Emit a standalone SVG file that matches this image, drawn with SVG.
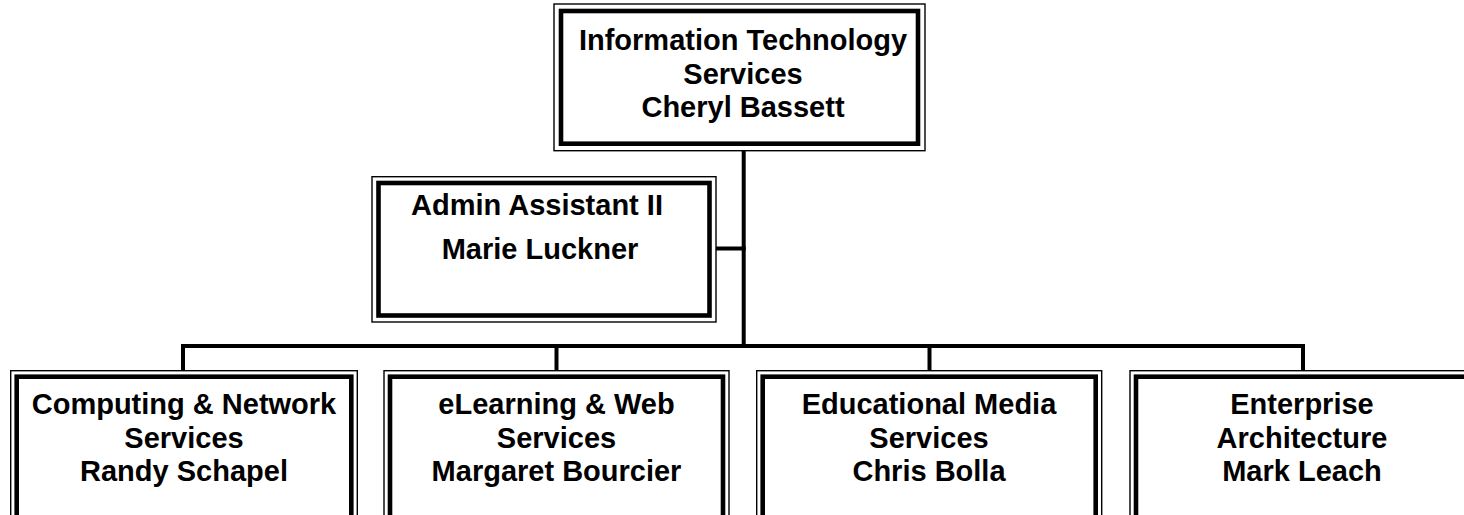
<svg xmlns="http://www.w3.org/2000/svg" width="1464" height="515" viewBox="0 0 1464 515">
<style>
.outer{fill:#ffffff;stroke:#000;stroke-width:1.4}
.inner{fill:none;stroke:#000;stroke-width:4.6}
.t{font-family:"Liberation Sans",Arial,sans-serif;font-weight:bold;font-size:29px;fill:#000;text-anchor:middle}
.c{fill:none;stroke:#000;stroke-width:4;stroke-linecap:square}
</style>
<rect width="1464" height="515" fill="#ffffff"/>
<g id="connectors">
<path class="c" d="M743.7 151 V346"/>
<path class="c" d="M716 248.5 H743.7"/>
<path class="c" d="M183 370 V346 H1303 V370"/>
<path class="c" d="M556.5 346 V370"/>
<path class="c" d="M929.5 346 V370"/>
</g>
<g id="node-its">
<rect class="outer" x="554" y="4" width="371" height="146.7"/>
<rect class="inner" x="561" y="11" width="357" height="132.7"/>
<text class="t" x="743" y="50">Information Technology</text>
<text class="t" x="743" y="84">Services</text>
<text class="t" x="743" y="117">Cheryl Bassett</text>
</g>
<g id="node-admin">
<rect class="outer" x="372" y="176.7" width="344" height="145.3"/>
<rect class="inner" x="378.5" y="183" width="331" height="132.5"/>
<text class="t" x="537" y="215">Admin Assistant II</text>
<text class="t" x="540" y="259">Marie Luckner</text>
</g>
<g id="node-cns">
<rect class="outer" x="10.7" y="370.7" width="346.6" height="170"/>
<rect class="inner" x="16.7" y="376.7" width="334.6" height="170"/>
<text class="t" x="184" y="414">Computing &amp; Network</text>
<text class="t" x="184" y="448">Services</text>
<text class="t" x="184" y="481">Randy Schapel</text>
</g>
<g id="node-elearning">
<rect class="outer" x="384" y="370.7" width="345" height="170"/>
<rect class="inner" x="390" y="376.7" width="333" height="170"/>
<text class="t" x="556.5" y="414">eLearning &amp; Web</text>
<text class="t" x="556.5" y="448">Services</text>
<text class="t" x="556.5" y="481">Margaret Bourcier</text>
</g>
<g id="node-media">
<rect class="outer" x="756.7" y="370.7" width="345" height="170"/>
<rect class="inner" x="762.7" y="376.7" width="333" height="170"/>
<text class="t" x="929" y="414">Educational Media</text>
<text class="t" x="929" y="448">Services</text>
<text class="t" x="929" y="481">Chris Bolla</text>
</g>
<g id="node-ea">
<rect class="outer" x="1130" y="370.7" width="345" height="170"/>
<rect class="inner" x="1136" y="376.7" width="333" height="170"/>
<text class="t" x="1302" y="414">Enterprise</text>
<text class="t" x="1302" y="448">Architecture</text>
<text class="t" x="1302" y="481">Mark Leach</text>
</g>
</svg>
